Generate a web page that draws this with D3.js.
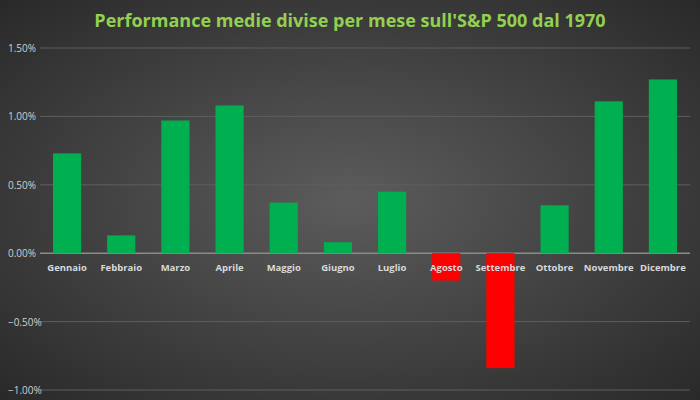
<!DOCTYPE html>
<html>
<head>
<meta charset="utf-8">
<script src="https://cdn.jsdelivr.net/npm/d3@7"></script>
<style>
  body { margin: 0; background: #333; }
  text { font-family: "Open Sans", "DejaVu Sans", sans-serif; }
</style>
</head>
<body>
<svg id="chart" width="700" height="400"></svg>
<script>
var months = ["Gennaio", "Febbraio", "Marzo", "Aprile", "Maggio", "Giugno",
    "Luglio", "Agosto", "Settembre", "Ottobre", "Novembre", "Dicembre"];
var perf = [0.73, 0.13, 0.97, 1.08, 0.37, 0.08, 0.45, -0.20, -0.84, 0.35, 1.11, 1.27];
var yTicks = [-1.0, -0.5, 0, 0.5, 1.0, 1.5];

(function () {
    "use strict";
    var svg = d3.select("#chart"),
        defs = svg.append("defs"),
        grad = defs.append("radialGradient").attr("id", "bg")
            .attr("cx", "50%").attr("cy", "50%").attr("r", "75%");
    grad.append("stop").attr("offset", "0%").attr("stop-color", "#5c5c5c");
    grad.append("stop").attr("offset", "100%").attr("stop-color", "#262626");
    svg.append("rect").attr("width", 700).attr("height", 400).attr("fill", "url(#bg)");

    var x = d3.scaleBand().domain(months).range([40, 690]).paddingInner(0.48).paddingOuter(0.24),
        y = d3.scaleLinear().domain([-1.0, 1.5]).range([390, 48]);

    // gridlines
    svg.append("g").selectAll("line").data(yTicks).join("line")
        .attr("x1", 40).attr("x2", 690)
        .attr("y1", function (d) { return y(d); }).attr("y2", function (d) { return y(d); })
        .attr("stroke", function (d) { return d === 0 ? "#8a8a8a" : "#5e5e5e"; })
        .attr("stroke-width", function (d) { return d === 0 ? 1.5 : 1; });

    svg.append("g").selectAll("text").data(yTicks).join("text")
        .attr("x", 8).attr("y", function (d) { return y(d) + 4; })
        .attr("fill", "#d0d0d0").attr("font-size", 10)
        .text(function (d) { return d3.format(".2f")(d) + "%"; });

    svg.append("g").selectAll("rect").data(perf).join("rect")
        .attr("x", function (d, i) { return x(months[i]); })
        .attr("width", x.bandwidth())
        .attr("y", function (d) { return y(Math.max(0, d)); })
        .attr("height", function (d) { return Math.abs(y(d) - y(0)); })
        .attr("fill", function (d) { return d < 0 ? "#ff0000" : "#00b050"; });

    svg.append("g").selectAll("text").data(months).join("text")
        .attr("x", function (d) { return x(d) + x.bandwidth() / 2; })
        .attr("y", y(0) + 18)
        .attr("text-anchor", "middle")
        .attr("fill", "#d9d9d9").attr("font-size", 9.5).attr("font-weight", "bold")
        .text(function (d) { return d; });

    svg.append("text").attr("x", 350).attr("y", 27)
        .attr("text-anchor", "middle").attr("fill", "#92d050")
        .attr("font-size", 18).attr("font-weight", "bold")
        .text("Performance medie divise per mese sull'S&P 500 dal 1970");
}());
</script>
</body>
</html>
